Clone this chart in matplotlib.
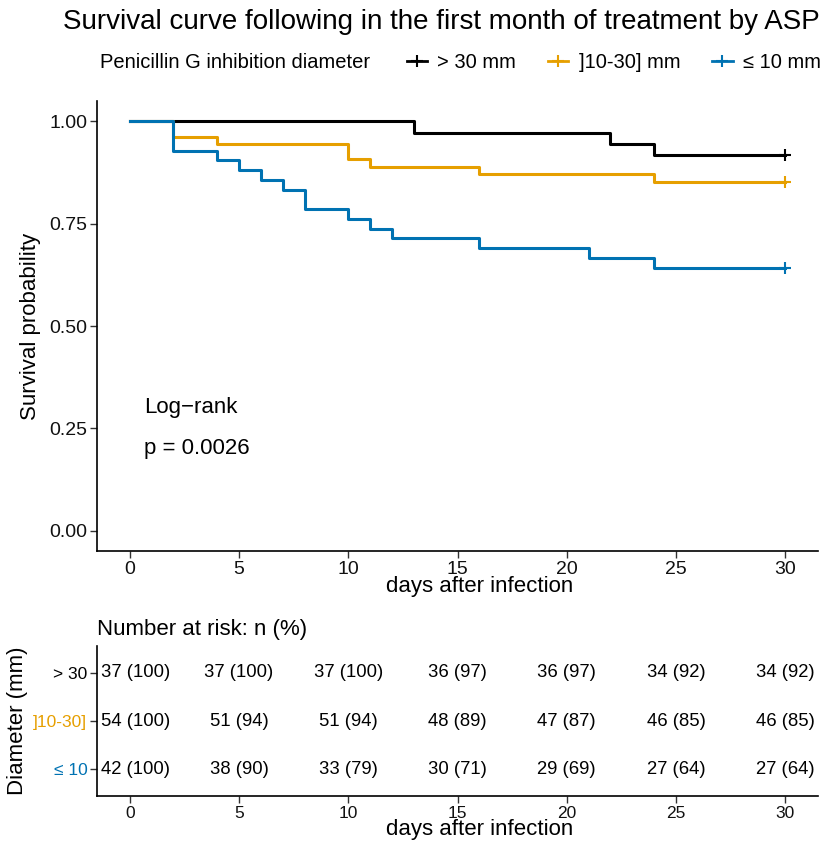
import matplotlib.pyplot as plt
from matplotlib.lines import Line2D
import numpy as np

plt.rcParams['font.family'] = ['Liberation Sans', 'DejaVu Sans']

# Kaplan-Meier step data (time, survival after the drop)
groups = ['> 30 mm', ']10-30] mm', '≤ 10 mm']
short_labels = ['> 30', ']10-30]', '≤ 10']
colors = ['#000000', '#E69F00', '#0072B2']

t_gt30 = [0, 13, 22, 24]
s_gt30 = [1.0, 36/37, 35/37, 34/37]
t_mid = [0, 2, 4, 10, 11, 16, 24]
s_mid = [1.0, 52/54, 51/54, 49/54, 48/54, 47/54, 46/54]
t_le10 = [0, 2, 4, 5, 6, 7, 8, 10, 11, 12, 16, 21, 24]
s_le10 = [1.0, 39/42, 38/42, 37/42, 36/42, 35/42, 33/42, 32/42, 31/42, 30/42, 29/42, 28/42, 27/42]
t_end = 30

risk_times = [0, 5, 10, 15, 20, 25, 30]
risk_gt30 = ['37 (100)', '37 (100)', '37 (100)', '36 (97)', '36 (97)', '34 (92)', '34 (92)']
risk_mid = ['54 (100)', '51 (94)', '51 (94)', '48 (89)', '47 (87)', '46 (85)', '46 (85)']
risk_le10 = ['42 (100)', '38 (90)', '33 (79)', '30 (71)', '29 (69)', '27 (64)', '27 (64)']

curves = [(t_gt30, s_gt30), (t_mid, s_mid), (t_le10, s_le10)]
risk_rows = [risk_gt30, risk_mid, risk_le10]

fig = plt.figure(figsize=(8.4, 8.46), dpi=100)

# the source image is cropped on the right, so x labels sit right of the axes centre
xlab_x = (480 - 97) / (818 - 97)

# main survival plot
ax = fig.add_axes([97/840, 1-551/846, (818-97)/840, (551-101)/846])
for (t, s), c in zip(curves, colors):
    tt = list(t) + [t_end]
    ss = list(s) + [s[-1]]
    ax.step(tt, ss, where='post', color=c, lw=2.2)
    ax.plot([t_end], [s[-1]], marker='+', ms=9, mew=1.5, color=c, ls='none')

ax.set_xlim(-1.5, 31.5)
ax.set_ylim(-0.05, 1.05)
ax.set_xticks([0, 5, 10, 15, 20, 25, 30])
ax.set_yticks([0, 0.25, 0.5, 0.75, 1.0])
ax.set_yticklabels(['0.00', '0.25', '0.50', '0.75', '1.00'])
ax.tick_params(labelsize=14, length=5, width=1, pad=2, colors='#333333', labelcolor='#111111')
for sp in ['top', 'right']:
    ax.spines[sp].set_visible(False)
for sp in ['left', 'bottom']:
    ax.spines[sp].set_linewidth(1.2)
ax.set_xlabel('days after infection', fontsize=16, labelpad=0)
ax.xaxis.set_label_coords(xlab_x, -0.056)
ax.set_ylabel('Survival probability', fontsize=16, labelpad=6)
ax.text(0.65, 0.30, 'Log\u2212rank', fontsize=16, va='center', ha='left')
ax.text(0.65, 0.20, 'p = 0.0026', fontsize=16, va='center', ha='left')

fig.text(63/840, 1-22/846, 'Survival curve following in the first month of treatment by ASP',
         ha='left', va='center', fontsize=20)

# legend
fig.text(100/840, 1-63/846, 'Penicillin G inhibition diameter', ha='left', va='center', fontsize=14.5)
handles = [Line2D([0], [0], color=c, lw=2, marker='+', ms=8, mew=1.5) for c in colors]
fig.legend(handles, groups, ncol=3, loc='center left', bbox_to_anchor=(407/840, 1-63/846),
           frameon=False, fontsize=14.5, handlelength=1.0, handletextpad=0.5, columnspacing=1.6,
           borderaxespad=0, borderpad=0)

# risk table
rx = fig.add_axes([97/840, 1-796/846, (818-97)/840, (796-646)/846])
ypos = [3, 2, 1]
for y, row in zip(ypos, risk_rows):
    for x, lab in zip(risk_times, row):
        # first column nudged right so it clears the axis line, as in the source
        xx = x + 0.28 if x == 0 else x
        rx.text(xx, y, lab, ha='center', va='center', fontsize=13.3)
rx.set_xlim(-1.5, 31.5)
rx.set_ylim(0.45, 3.55)
rx.set_xticks(risk_times)
rx.set_yticks(ypos)
rx.set_yticklabels(short_labels)
rx.tick_params(labelsize=12.5, length=5, width=1, pad=2, colors='#333333', labelcolor='#111111')
for lab, c in zip(rx.get_yticklabels(), colors):
    lab.set_color(c)
for sp in ['top', 'right']:
    rx.spines[sp].set_visible(False)
for sp in ['left', 'bottom']:
    rx.spines[sp].set_linewidth(1.2)
rx.set_xlabel('days after infection', fontsize=16, labelpad=0)
rx.xaxis.set_label_coords(xlab_x, -0.155)
rx.set_ylabel('Diameter (mm)', fontsize=16, labelpad=4)
rx.set_title('Number at risk: n (%)', loc='left', fontsize=16, pad=8)

fig.savefig('out.png', dpi=100)
